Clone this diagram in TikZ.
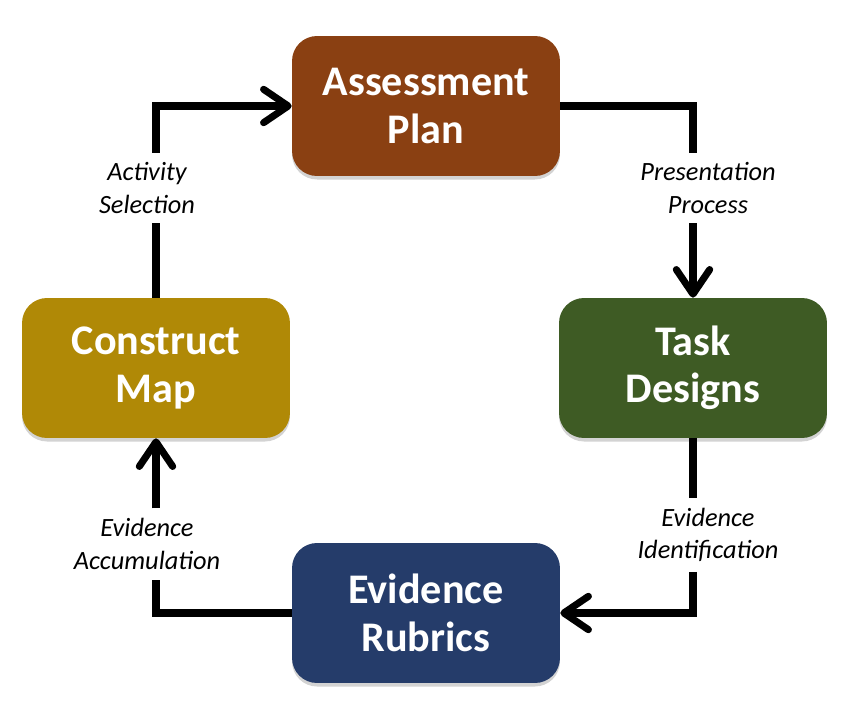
\documentclass[tikz,border=0pt]{standalone}
\usepackage{fontspec}
\setmainfont{Carlito}
\usepackage{tikz}
\usetikzlibrary{arrows.meta}
\usetikzlibrary{shadows}

\definecolor{planbrown}{RGB}{138,64,18}
\definecolor{mapgold}{RGB}{176,137,6}
\definecolor{taskgreen}{RGB}{62,91,36}
\definecolor{rubricblue}{RGB}{37,60,106}

\tikzset{
	stage/.style={rounded corners=0.5cm, minimum width=5.36cm, minimum height=2.8cm,
		text=white, align=center, font=\fontsize{24}{27}\selectfont\bfseries,
		drop shadow={shadow xshift=0pt, shadow yshift=-2pt, opacity=0.35}},
	steplabel/.style={align=center, inner xsep=0pt, inner ysep=5.5pt,
		font=\fontsize{15}{18.5}\selectfont\itshape},
	flow/.style={line width=4pt, line join=miter},
	flowtip/.style={flow, -{Straight Barb[round, length=14pt, width=19pt]}}
}

\begin{document}
\begin{tikzpicture}[x=0.02cm, y=-0.02cm]
	\useasboundingbox (0,0) rectangle (846,703);
	%Stages
	\node[stage, fill=planbrown] (plan) at (426,106) {Assessment\\Plan};
	\node[stage, fill=taskgreen] (task) at (693,368) {Task\\Designs};
	\node[stage, fill=rubricblue] (rubric) at (426,613) {Evidence\\Rubrics};
	\node[stage, fill=mapgold] (cmap) at (156,368) {Construct\\Map};
	
	%Labels
	\node[steplabel] (select) at (147,188) {Activity\\Selection};
	\node[steplabel] (present) at (708,188) {Presentation\\Process};
	\node[steplabel] (ident) at (708,535) {Evidence\\Identification};
	\node[steplabel] (accum) at (147,544) {Evidence\\Accumulation};
	
	%Map to plan
	\draw[flow] (cmap.north) -- (cmap.north |- select.south);
	\draw[flowtip] (cmap.north |- select.north) |- (plan.west);
	%Plan to task
	\draw[flow] (plan.east) -| (task.north |- present.north);
	\draw[flowtip] (task.north |- present.south) -- (task.north);
	%Task to rubrics
	\draw[flow] (task.south) -- (task.south |- ident.north);
	\draw[flowtip] (task.south |- ident.south) |- (rubric.east);
	%Rubrics to map
	\draw[flow] (rubric.west) -| (cmap.south |- accum.south);
	\draw[flowtip] (cmap.south |- accum.north) -- (cmap.south);
\end{tikzpicture}
\end{document}
